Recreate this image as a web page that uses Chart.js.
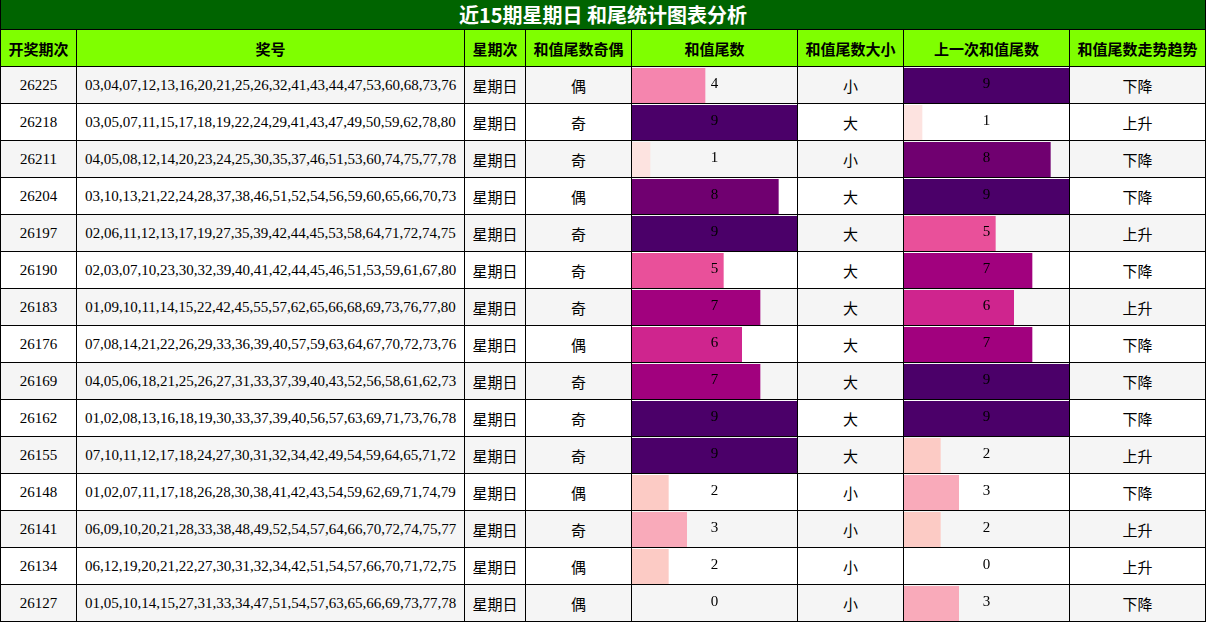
<!DOCTYPE html>
<html><head><meta charset="utf-8">
<script src="https://cdn.jsdelivr.net/npm/chart.js@4/dist/chart.umd.min.js"></script>
<style>
body{margin:0;width:1206px;height:622px;background:#fff;overflow:hidden;position:relative;font-family:"Liberation Serif","Noto Sans CJK SC",serif}
.c{position:absolute;box-sizing:border-box;border-right:1px solid #000;border-bottom:1px solid #000;display:flex;align-items:center;justify-content:center;font-size:15px;color:#000;white-space:nowrap}
.h{background:#7FFF00;font-weight:bold;font-family:"Noto Sans CJK SC",sans-serif;font-size:15px}
canvas{position:absolute}
</style></head><body>
<script>
const title="近15期星期日 和尾统计图表分析";
const headers=["开奖期次","奖号","星期次","和值尾数奇偶","和值尾数","和值尾数大小","上一次和值尾数","和值尾数走势趋势"];
const periods=["26225","26218","26211","26204","26197","26190","26183","26176","26169","26162","26155","26148","26141","26134","26127"];
const numbers=["03,04,07,12,13,16,20,21,25,26,32,41,43,44,47,53,60,68,73,76","03,05,07,11,15,17,18,19,22,24,29,41,43,47,49,50,59,62,78,80","04,05,08,12,14,20,23,24,25,30,35,37,46,51,53,60,74,75,77,78","03,10,13,21,22,24,28,37,38,46,51,52,54,56,59,60,65,66,70,73","02,06,11,12,13,17,19,27,35,39,42,44,45,53,58,64,71,72,74,75","02,03,07,10,23,30,32,39,40,41,42,44,45,46,51,53,59,61,67,80","01,09,10,11,14,15,22,42,45,55,57,62,65,66,68,69,73,76,77,80","07,08,14,21,22,26,29,33,36,39,40,57,59,63,64,67,70,72,73,76","04,05,06,18,21,25,26,27,31,33,37,39,40,43,52,56,58,61,62,73","01,02,08,13,16,18,19,30,33,37,39,40,56,57,63,69,71,73,76,78","07,10,11,12,17,18,24,27,30,31,32,34,42,49,54,59,64,65,71,72","01,02,07,11,17,18,26,28,30,38,41,42,43,54,59,62,69,71,74,79","06,09,10,20,21,28,33,38,48,49,52,54,57,64,66,70,72,74,75,77","06,12,19,20,21,22,27,30,31,32,34,42,51,54,57,66,70,71,72,75","01,05,10,14,15,27,31,33,34,47,51,54,57,63,65,66,69,73,77,78"];
const weekday="星期日";
const parity=["偶","奇","奇","偶","奇","奇","奇","偶","奇","奇","奇","偶","奇","偶","偶"];
const tailValues=[4,9,1,8,9,5,7,6,7,9,9,2,3,2,0];
const sizes=["小","大","小","大","大","大","大","大","大","大","大","小","小","小","小"];
const prevValues=[9,1,8,9,5,7,6,7,9,9,2,3,2,0,3];
const trends=["下降","上升","下降","下降","上升","下降","上升","下降","下降","下降","上升","下降","上升","上升","下降"];
const palette=["rgba(0,0,0,0)","#FDE3E0","#FCCBC5","#F9AABA","#F585AE","#E9509A","#CF258E","#A1017E","#700070","#4B0069"];

const cols=[0,77,465,526,632,798,904,1070,1206];
function cell(x,y,w,h,txt,cls,bg){const d=document.createElement('div');d.className='c '+(cls||'');d.style.left=x+'px';d.style.top=y+'px';d.style.width=w+'px';d.style.height=h+'px';if(bg)d.style.background=bg;d.textContent=txt;document.body.appendChild(d);return d;}
const t=cell(0,0,1206,30,title,'',"#006400");t.style.color='#fff';t.style.fontWeight='bold';t.style.fontSize='20px';t.style.fontFamily='"Noto Sans CJK SC",sans-serif';t.style.borderLeft='1px solid #000';
headers.forEach((hd,i)=>{const c=cell(cols[i],30,cols[i+1]-cols[i],37,hd,'h');if(i==0)c.style.borderLeft='1px solid #000';});
for(let r=0;r<15;r++){
  const y=67+37*r, bg=r%2==0?'#F5F5F5':'#FFFFFF';
  const vals=[periods[r],numbers[r],weekday,parity[r],'',sizes[r],'',trends[r]];
  vals.forEach((v,i)=>{const c=cell(cols[i],y,cols[i+1]-cols[i],37,v,'',bg);if(i==0)c.style.borderLeft='1px solid #000';if(i==2||i==5||i==3||i==7)c.style.fontFamily='"Noto Sans CJK SC",sans-serif';});
}
function barChart(x,vals){
  const cv=document.createElement('canvas');cv.style.left=x+'px';cv.style.top='67px';cv.width=165;cv.height=555;cv.style.width='165px';cv.style.height='555px';document.body.appendChild(cv);
  new Chart(cv,{type:'bar',data:{labels:periods,datasets:[{data:vals,backgroundColor:vals.map(v=>palette[v]),barPercentage:1,categoryPercentage:35/37}]},
  options:{indexAxis:'y',responsive:false,animation:false,devicePixelRatio:1,layout:{padding:0},
   plugins:{legend:{display:false},tooltip:{enabled:false}},
   scales:{x:{display:false,min:0,max:9},y:{display:false,offset:true}}},
  plugins:[{id:'lbl',afterDatasetsDraw(ch){const ctx=ch.ctx;ctx.save();ctx.font='15px "Liberation Serif",serif';ctx.fillStyle='#000';ctx.textAlign='center';ctx.textBaseline='middle';
    ch.getDatasetMeta(0).data.forEach((b,i)=>{ctx.fillText(String(vals[i]),ch.chartArea.left+(ch.chartArea.right-ch.chartArea.left)/2,b.y-1);});ctx.restore();}}]});
}
barChart(632,tailValues);
barChart(904,prevValues);
</script>
</body></html>
